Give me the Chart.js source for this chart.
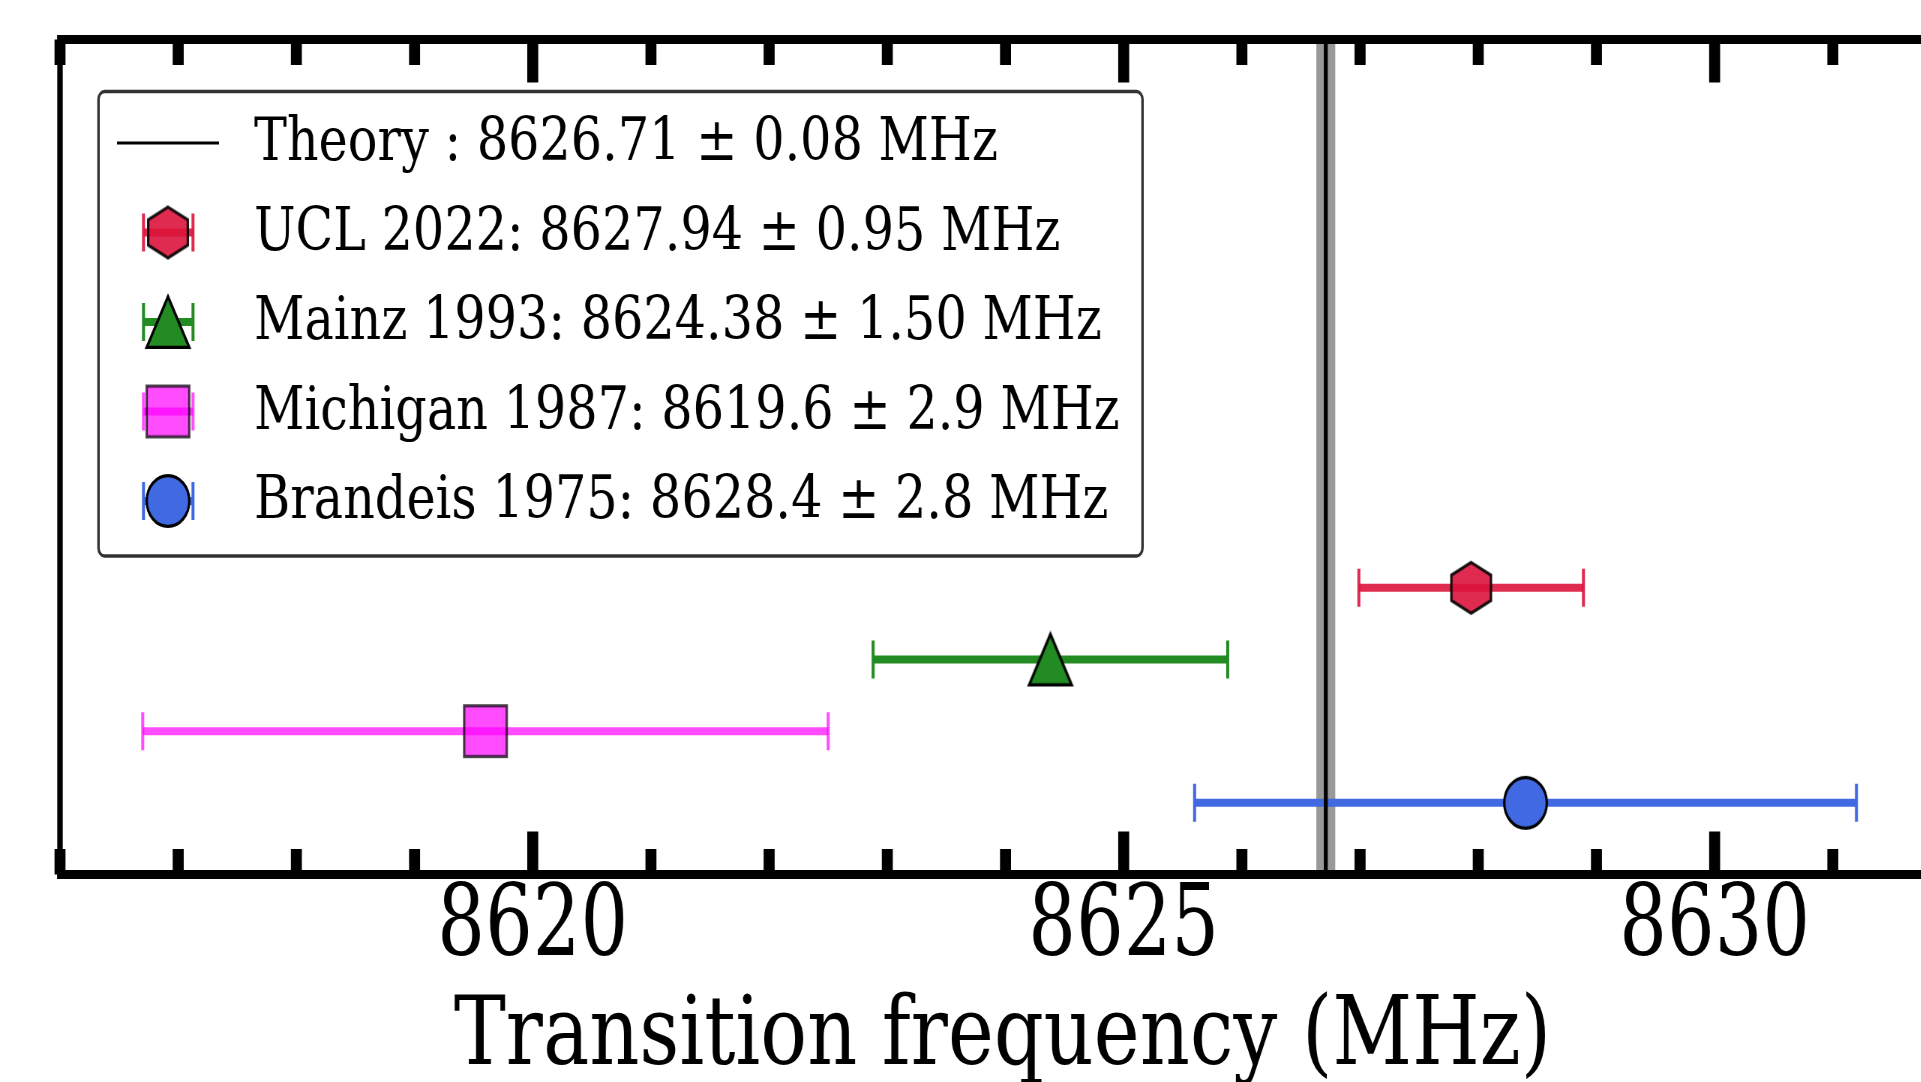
<!DOCTYPE html>
<html>
<head>
<meta charset="utf-8">
<script src="https://cdn.jsdelivr.net/npm/chart.js@4.4.1/dist/chart.umd.min.js"></script>
<style>
    html, body { margin: 0; padding: 0; background: #fff; overflow: hidden; }
    /* the reference is squeezed sideways, so the canvas is drawn wide and squeezed back */
    #chart { display: block; transform: scaleX(0.75); transform-origin: 0 0; }
</style>
</head>
<body>
<canvas id="chart" width="2610" height="1082"></canvas>
<script>
const names = ['UCL 2022', 'Mainz 1993', 'Michigan 1987', 'Brandeis 1975'];
const freqs = [8627.94, 8624.38, 8619.6, 8628.4];
const errors = [0.95, 1.50, 2.9, 2.8];
const digits = [2, 2, 1, 1];
const rows = [4, 3, 2, 1];
const theory = 8626.71;
const theoryErr = 0.08;
const xMin = 8616;
const xMax = 8632;
const yMax = 11.65;
const majorStep = 5;

const shapes = ['hexagon', 'triangle', 'square', 'circle'];
const fillColors = ['rgba(220, 20, 60, 0.9)', '#228b22', 'rgba(255, 0, 255, 0.7)', '#4169e1'];
const edgeColors = ['rgba(0, 0, 0, 0.9)', '#000000', 'rgba(0, 0, 0, 0.7)', '#000000'];
const barColors = ['rgba(220, 20, 60, 0.9)', '#228b22', 'rgba(255, 0, 255, 0.7)', '#4169e1'];

const SX = 0.75;
const FONT = "'DejaVu Serif', serif";
const legendStretch = 1.095;
const titleStretch = 1.08;

function makeMarker(i) {
    let w = (shapes[i] === 'hexagon' ? 42 : 45) / SX;
    let h = 54;
    let lw = 3.2;
    let c = document.createElement('canvas');
    c.width = Math.ceil(w + 4);
    c.height = Math.ceil(h + 4);
    let ctx = c.getContext('2d');
    ctx.translate(c.width / 2, c.height / 2);
    let hw = (w - lw) / 2, hh = (h - lw) / 2;
    ctx.beginPath();
    if (shapes[i] === 'hexagon') {
        ctx.moveTo(0, -hh);
        ctx.lineTo(hw, -hh / 2);
        ctx.lineTo(hw, hh / 2);
        ctx.lineTo(0, hh);
        ctx.lineTo(-hw, hh / 2);
        ctx.lineTo(-hw, -hh / 2);
        ctx.closePath();
    } else if (shapes[i] === 'triangle') {
        ctx.moveTo(0, -hh);
        ctx.lineTo(hw, hh);
        ctx.lineTo(-hw, hh);
        ctx.closePath();
    } else if (shapes[i] === 'square') {
        ctx.rect(-hw, -hh, 2 * hw, 2 * hh);
    } else {
        ctx.ellipse(0, 0, hw, hh, 0, 0, Math.PI * 2);
    }
    ctx.fillStyle = fillColors[i];
    ctx.fill();
    ctx.lineWidth = lw;
    ctx.strokeStyle = edgeColors[i];
    ctx.stroke();
    return c;
}

const markers = names.map((n, i) => makeMarker(i));

let datasets = [];
names.forEach((name, i) => {
    datasets.push({
        type: 'scatter',
        label: name,
        data: [{x: freqs[i], y: rows[i]}],
        pointStyle: markers[i],
        order: 0,
    });
});
datasets.push({
    type: 'line',
    label: 'Theory',
    data: [{x: theory, y: 0}, {x: theory, y: yMax}],
    borderColor: '#000',
    borderWidth: 4 / SX,
    pointRadius: 0,
    order: 1,
});
names.forEach((name, i) => {
    datasets.push({
        type: 'line',
        label: name + ' error',
        data: [{x: freqs[i] - errors[i], y: rows[i]}, {x: freqs[i] + errors[i], y: rows[i]}],
        borderColor: barColors[i],
        borderWidth: 8,
        pointStyle: 'line',
        pointRotation: 90,
        pointRadius: 19,
        pointBorderColor: barColors[i],
        pointBorderWidth: 3 / SX,
        order: 2,
    });
});

const theoryBand = {
    id: 'theoryBand',
    beforeDatasetsDraw(chart) {
        const {ctx, chartArea, scales} = chart;
        let x0 = scales.x.getPixelForValue(theory - theoryErr);
        let x1 = scales.x.getPixelForValue(theory + theoryErr);
        ctx.save();
        ctx.fillStyle = '#999999';
        ctx.fillRect(x0, chartArea.top, x1 - x0, chartArea.bottom - chartArea.top);
        ctx.restore();
    }
};

// the reference lettering is a bit wider than DejaVu, so the axis title gets stretched
const wideTitle = {
    id: 'wideTitle',
    afterLayout(chart) {
        let sc = chart.scales.x;
        if (sc._wide) return;
        let orig = sc.drawTitle;
        sc.drawTitle = function () {
            let ctx = this.ctx;
            let cx = (this.left + this.right) / 2;
            ctx.save();
            ctx.translate(cx - 4, 0);
            ctx.scale(titleStretch, 1);
            ctx.translate(-cx, 0);
            orig.call(this);
            ctx.restore();
        };
        sc._wide = true;
    }
};

// spines plus ticks pointing into the plot, top and bottom
const frame = {
    id: 'frame',
    afterDatasetsDraw(chart) {
        const {ctx, chartArea: a, scales} = chart;
        ctx.save();
        ctx.fillStyle = '#000';
        let tw = 11 / SX;
        scales.x.ticks.forEach(t => {
            let px = scales.x.getPixelForValue(t.value);
            let len = t.value % majorStep === 0 ? 43 : 25.5;
            ctx.fillRect(px - tw / 2, a.top, tw, len);
            ctx.fillRect(px - tw / 2, a.bottom - len, tw, len);
        });
        let sw = 5.5 / SX;
        ctx.fillRect(a.left - sw / 2, a.top - 4.5, a.right - a.left + sw, 9);
        ctx.fillRect(a.left - sw / 2, a.bottom - 4.5, a.right - a.left + sw, 9);
        ctx.fillRect(a.left - sw / 2, a.top - 4.5, sw, a.bottom - a.top + 9);
        ctx.restore();
    }
};

const legendBox = {
    id: 'legendBox',
    afterDraw(chart) {
        const ctx = chart.ctx;
        let left = 98.5 / SX, right = 1142.5 / SX, top = 91.5, bottom = 556;
        let rowY = 143, rowGap = 89.5;
        let symX = 168 / SX, textX = 254 / SX;
        ctx.save();
        ctx.beginPath();
        ctx.roundRect(left, top, right - left, bottom - top, 8);
        ctx.fillStyle = 'rgba(255, 255, 255, 0.9)';
        ctx.fill();
        ctx.lineWidth = 3.3;
        ctx.strokeStyle = 'rgba(0, 0, 0, 0.8)';
        ctx.stroke();

        ctx.font = '60px ' + FONT;
        ctx.fillStyle = '#000';
        ctx.textBaseline = 'alphabetic';
        ctx.textAlign = 'left';
        let label = (txt, y) => {
            ctx.save();
            ctx.translate(textX, y + 17);
            ctx.scale(legendStretch, 1);
            ctx.fillText(txt, 0, 0);
            ctx.restore();
        };

        ctx.beginPath();
        ctx.moveTo(117 / SX, rowY);
        ctx.lineTo(219 / SX, rowY);
        ctx.lineWidth = 3;
        ctx.strokeStyle = '#000';
        ctx.stroke();
        label('Theory : ' + theory.toFixed(2) + ' \u00b1 ' + theoryErr.toFixed(2) + ' MHz', rowY);

        names.forEach((name, i) => {
            let y = rowY + rowGap * (i + 1);
            let c0 = 143.5 / SX, c1 = 193 / SX;
            ctx.strokeStyle = barColors[i];
            ctx.lineWidth = 8;
            ctx.beginPath();
            ctx.moveTo(c0, y);
            ctx.lineTo(c1, y);
            ctx.stroke();
            ctx.lineWidth = 3 / SX;
            ctx.beginPath();
            ctx.moveTo(c0, y - 19);
            ctx.lineTo(c0, y + 19);
            ctx.moveTo(c1, y - 19);
            ctx.lineTo(c1, y + 19);
            ctx.stroke();
            ctx.drawImage(markers[i], symX - markers[i].width / 2, y - markers[i].height / 2);
            label(name + ': ' + freqs[i].toFixed(digits[i]) + ' \u00b1 ' + errors[i].toFixed(digits[i]) + ' MHz', y);
        });
        ctx.restore();
    }
};

new Chart(document.getElementById('chart').getContext('2d'), {
    type: 'scatter',
    data: {datasets: datasets},
    options: {
        responsive: false,
        animation: false,
        devicePixelRatio: 1,
        events: [],
        layout: {
            autoPadding: false,
            padding: {left: 60 / SX, right: 2610 - 1951 / SX, top: 39.5, bottom: 0},
        },
        plugins: {
            legend: {display: false},
            tooltip: {enabled: false},
        },
        scales: {
            x: {
                type: 'linear',
                min: xMin,
                max: xMax,
                afterFit(scale) {
                    scale.height = 1082 - 874.5;
                    scale.paddingLeft = 0;
                    scale.paddingRight = 0;
                },
                grid: {display: false, drawTicks: false},
                border: {display: false},
                ticks: {
                    stepSize: 1,
                    maxTicksLimit: 100,
                    autoSkip: false,
                    maxRotation: 0,
                    padding: 5,
                    color: '#000',
                    font: {family: FONT, size: 100, lineHeight: 1},
                    callback: v => v % majorStep === 0 ? String(v) : '',
                },
                title: {
                    display: true,
                    text: 'Transition frequency (MHz)',
                    color: '#000',
                    font: {family: FONT, size: 96, lineHeight: 1},
                    padding: {top: 0, bottom: -5},
                },
            },
            y: {
                type: 'linear',
                min: 0,
                max: yMax,
                display: false,
            },
        },
    },
    plugins: [theoryBand, wideTitle, frame, legendBox],
});
</script>
</body>
</html>
